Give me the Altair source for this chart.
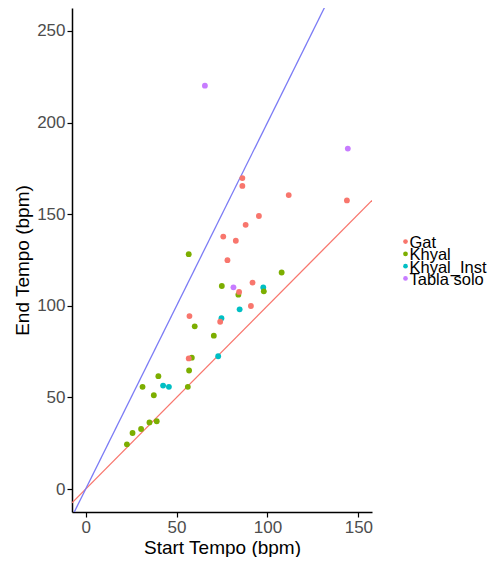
import altair as alt
import pandas as pd

gat_x = [86.2, 86.2, 111.7, 143.7, 95.3, 88.0, 75.7, 82.6, 78.0, 91.8, 84.4, 90.9, 57.1, 74.0, 56.7]
gat_y = [169.7, 165.4, 160.4, 157.5, 149.0, 144.2, 137.8, 135.5, 124.9, 112.7, 107.6, 99.9, 94.4, 91.3, 71.3]
khyal_x = [56.7, 107.8, 74.9, 84.0, 98.0, 60.0, 70.5, 58.4, 56.9, 40.0, 31.3, 56.2, 37.5, 35.1, 39.1, 30.5, 25.8, 22.7]
khyal_y = [128.2, 118.2, 110.8, 106.1, 107.9, 88.8, 83.7, 71.7, 64.7, 61.6, 55.8, 55.8, 51.2, 36.4, 37.0, 32.8, 30.6, 24.4]
inst_x = [97.7, 84.7, 74.7, 72.9, 42.6, 45.8]
inst_y = [110.0, 98.1, 93.2, 72.5, 56.5, 55.8]
tabla_x = [65.6, 144.2, 81.3]
tabla_y = [220.1, 185.8, 110.1]

categories = ["Gat", "Khyal", "Khyal_Inst", "Tabla solo"]
colors = ["#F8766D", "#7CAE00", "#00BFC4", "#C77CFF"]

rows = []
for name, xs, ys in [("Khyal_Inst", inst_x, inst_y), ("Khyal", khyal_x, khyal_y),
                     ("Gat", gat_x, gat_y), ("Tabla solo", tabla_x, tabla_y)]:
    for a, b in zip(xs, ys):
        rows.append({"start": a, "end": b, "genre": name})
df = pd.DataFrame(rows)

legend_df = pd.DataFrame({"genre": categories, "idx": list(range(len(categories)))})

x_dom = [-7.5, 157.5]
y_dom = [-12.5, 262.5]
slopes = [1, 2]
line_colors = ["#F8766D", "#7B7BF5"]
lines = pd.DataFrame([{"start": xv, "end": s * xv, "line": str(s)} for s in slopes for xv in x_dom])

xs = alt.Scale(domain=x_dom, nice=False, zero=False)
ys = alt.Scale(domain=y_dom, nice=False, zero=False)
fill_scale = alt.Scale(domain=categories, range=colors)

xaxis = alt.Axis(values=[0, 50, 100, 150], title="Start Tempo (bpm)", grid=False,
                 domainColor="black", domainWidth=1.5, tickColor="black", tickWidth=1.2,
                 tickSize=5, labelColor="#4D4D4D", labelFontSize=17, labelPadding=2,
                 titleFontSize=19, titleFontWeight="normal", titleColor="black", titlePadding=3,
                 labelFont="Liberation Sans", titleFont="Liberation Sans")
yaxis = alt.Axis(values=[0, 50, 100, 150, 200, 250], title="End Tempo (bpm)", grid=False,
                 domainColor="black", domainWidth=1.5, tickColor="black", tickWidth=1.2,
                 tickSize=5, labelColor="#4D4D4D", labelFontSize=17, labelPadding=2,
                 titleFontSize=19, titleFontWeight="normal", titleColor="black", titlePadding=4,
                 labelFont="Liberation Sans", titleFont="Liberation Sans")

line_layer = alt.Chart(lines).mark_line(clip=True, strokeWidth=1.3).encode(
    x=alt.X("start:Q", scale=xs, axis=xaxis),
    y=alt.Y("end:Q", scale=ys, axis=yaxis),
    detail="line:N",
    color=alt.Color("line:N", scale=alt.Scale(domain=["1", "2"], range=line_colors), legend=None),
)

pts = alt.Chart(df).mark_circle(size=34, opacity=1).encode(
    x=alt.X("start:Q", scale=xs),
    y=alt.Y("end:Q", scale=ys),
    fill=alt.Fill("genre:N", scale=fill_scale, legend=None),
)

main = alt.layer(line_layer, pts)

# legend drawn as a compact key (rows 12.3 px apart, as in the reference)
leg_y = alt.Y("idx:Q", scale=alt.Scale(domain=[-19.0, 22.0], reverse=True, nice=False, zero=False), axis=None)
leg_dots = alt.Chart(legend_df).mark_circle(size=22, opacity=1).encode(
    x=alt.value(333.5),
    y=leg_y,
    fill=alt.Fill("genre:N", scale=fill_scale, legend=None),
)
leg_text = alt.Chart(legend_df).mark_text(align="left", baseline="middle", dx=4, dy=1.5,
                                          fontSize=16.5, font="Liberation Sans", color="black").encode(
    x=alt.value(333.5),
    y=leg_y,
    text="genre:N",
)
legend = alt.layer(leg_dots, leg_text)

chart = alt.layer(main, legend).resolve_scale(y="independent").properties(
    width=300, height=504,
    autosize=alt.AutoSizeParams(type="none"),
    padding={"left": 64, "top": 0, "right": 124, "bottom": 45},
).configure_view(stroke=None)

chart.save("out.html", embed_options={"renderer": "svg", "actions": False})
